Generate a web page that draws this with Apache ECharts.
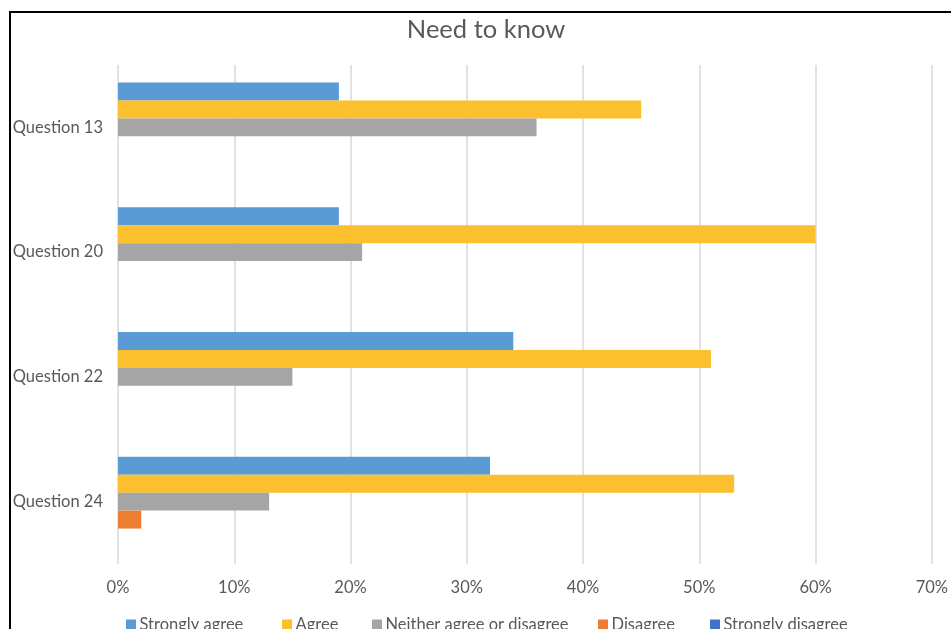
<!DOCTYPE html>
<html>
<head>
<meta charset="utf-8">
<script src="https://cdn.jsdelivr.net/npm/echarts@6/dist/echarts.min.js"></script>
<style>
  html, body { margin: 0; padding: 0; background: #fff; overflow: hidden; }
  #chart { width: 951px; height: 629px; }
</style>
</head>
<body>
<div id="chart"></div>
<script>
// Survey responses per question, in percent
const questions = ['Question 13', 'Question 20', 'Question 22', 'Question 24'];
const stronglyAgree = [19, 19, 34, 32];
const agree = [45, 60, 51, 53];
const neither = [36, 21, 15, 13];
const disagree = [0, 0, 0, 2];
const stronglyDisagree = [0, 0, 0, 0];
const tickValues = [0, 10, 20, 30, 40, 50, 60, 70];

const seriesNames = ['Strongly agree', 'Agree', 'Neither agree or disagree', 'Disagree', 'Strongly disagree'];
const seriesData = [stronglyAgree, agree, neither, disagree, stronglyDisagree];
const colors = ['#5b9bd5', '#fcbf2e', '#a5a5a5', '#ed7d31', '#4472c4'];
// left edge of each legend entry
const legendLeft = [126, 282, 372, 598, 710];

const font = 'Lato, "Open Sans", sans-serif';
const textColor = '#595959';

const chart = echarts.init(document.getElementById('chart'), null, { width: 951, height: 629 });
chart.setOption({
  animation: false,
  color: colors,
  textStyle: { fontFamily: font },
  title: {
    text: 'Need to know',
    left: 481,
    textAlign: 'center',
    top: 12,
    textStyle: { fontFamily: font, fontSize: 25.5, fontWeight: 'normal', color: textColor }
  },
  graphic: [{
    type: 'rect',
    shape: { x: 10, y: 12, width: 1000, height: 700 },
    style: { fill: 'none', stroke: '#000', lineWidth: 2 },
    silent: true
  }],
  grid: { left: 118, width: 820.3, top: 65, height: 499, containLabel: false },
  legend: seriesNames.map((name, i) => ({
    data: [name],
    left: legendLeft[i],
    top: 616,
    padding: 0,
    icon: 'rect',
    itemWidth: 10,
    itemHeight: 10,
    textStyle: { fontFamily: font, fontSize: 16.5, color: textColor, padding: [0, 0, 0, -1.5] }
  })),
  xAxis: {
    type: 'value',
    min: tickValues[0],
    max: tickValues[tickValues.length - 1],
    interval: 10,
    axisLine: { show: false },
    axisTick: { show: false },
    splitLine: { lineStyle: { color: '#d9d9d9', width: 1.5 } },
    axisLabel: {
      formatter: '{value}%',
      color: textColor,
      fontSize: 16.5,
      margin: 15
    }
  },
  yAxis: {
    type: 'category',
    data: questions,
    inverse: true,
    axisLine: { show: false },
    axisTick: { show: false },
    axisLabel: { color: textColor, fontSize: 16.5, margin: 15 }
  },
  series: seriesNames.map((name, i) => ({
    name,
    type: 'bar',
    data: seriesData[i],
    barGap: '0%',
    barCategoryGap: '28%'
  }))
});
</script>
</body>
</html>
